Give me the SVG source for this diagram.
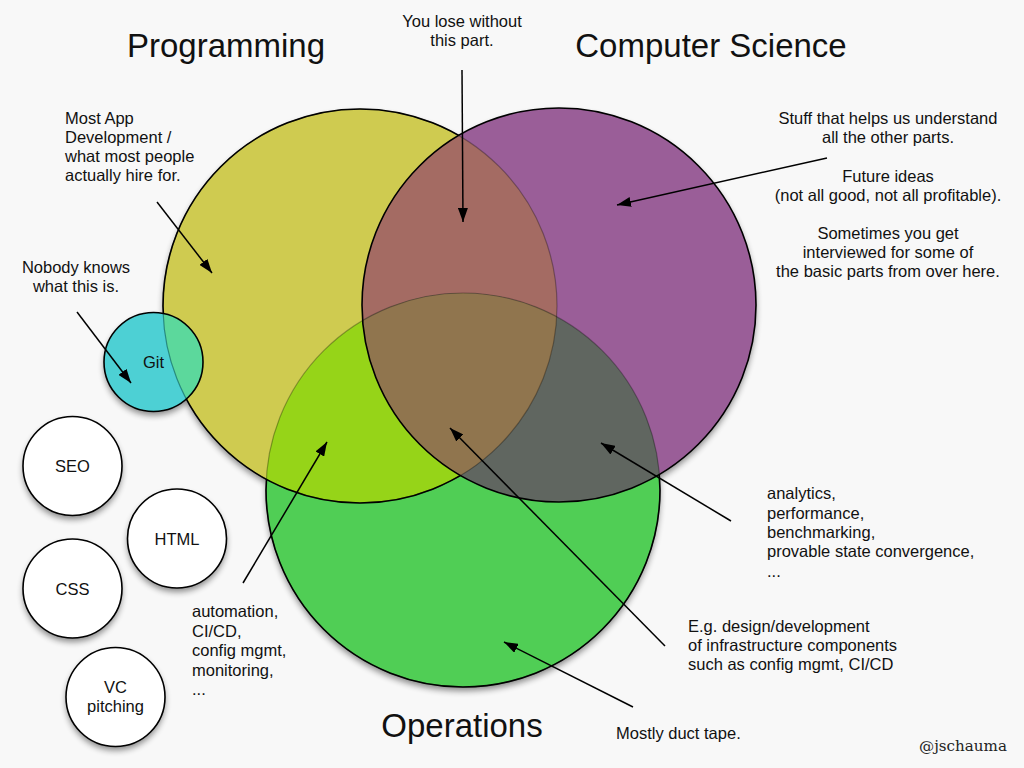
<svg xmlns="http://www.w3.org/2000/svg" width="1024" height="768" viewBox="0 0 1024 768">
<style>
.t{font-family:"Liberation Sans",Arial,sans-serif;fill:#111;}
.lbl{font-size:16.5px;}
.ttl{font-size:33px;}
.ctr{text-anchor:middle;}
.bk{fill:none;stroke:#000;stroke-width:1.6;}
.faint{fill:none;stroke:#000;stroke-width:1.2;stroke-opacity:0.3;}
.wc{fill:#fff;stroke:#000;stroke-width:1.6;}
.conn line{stroke:#000;stroke-width:1.5;marker-end:url(#ah);}
</style>
<defs>
<marker id="ah" viewBox="0 0 14 10" refX="14" refY="5" markerWidth="14" markerHeight="10" markerUnits="userSpaceOnUse" orient="auto"><path d="M0,0 L14,5 L0,10 z" fill="#000"/></marker>
<filter id="sh" x="-20%" y="-20%" width="140%" height="140%"><feGaussianBlur stdDeviation="3"/><feOffset dy="4"/><feComponentTransfer><feFuncA type="linear" slope="0.45"/></feComponentTransfer></filter>
<clipPath id="cY"><circle cx="360" cy="306" r="197"/></clipPath>
<clipPath id="cP"><circle cx="559" cy="305" r="197"/></clipPath>
<clipPath id="cGit"><circle cx="153.5" cy="362" r="49.5"/></clipPath>
<mask id="mOutYP" maskUnits="userSpaceOnUse" x="0" y="0" width="1024" height="768"><rect width="1024" height="768" fill="#fff"/><circle cx="360" cy="306" r="197" fill="#000"/><circle cx="559" cy="305" r="197" fill="#000"/></mask>
<mask id="mOutP" maskUnits="userSpaceOnUse" x="0" y="0" width="1024" height="768"><rect width="1024" height="768" fill="#fff"/><circle cx="559" cy="305" r="197" fill="#000"/></mask>
</defs>
<rect width="1024" height="768" fill="#f8f8f8"/>

<g id="shadows" filter="url(#sh)" fill="#000">
<circle cx="360" cy="306" r="197"/><circle cx="559" cy="305" r="197"/><circle cx="463" cy="490" r="197"/>
<circle cx="153.5" cy="362" r="49.5"/>
<circle cx="72.5" cy="466" r="49.5"/><circle cx="177" cy="538.5" r="49.5"/><circle cx="72.5" cy="588.5" r="49.5"/><circle cx="115.5" cy="697" r="49.5"/>
</g>

<g id="node-operations"><circle cx="463" cy="490" r="197" fill="#50ce55"/></g>
<g id="node-programming"><circle cx="360" cy="306" r="197" fill="#cfcb50"/></g>
<g id="overlap-prog-ops" clip-path="url(#cY)"><circle cx="463" cy="490" r="197" fill="#96d418"/></g>
<g id="node-computer-science"><circle cx="559" cy="305" r="197" fill="#9a5e98"/></g>
<g id="overlaps-cs" clip-path="url(#cP)">
<circle cx="360" cy="306" r="197" fill="#a46b63"/>
<circle cx="463" cy="490" r="197" fill="#606660"/>
<g clip-path="url(#cY)"><circle cx="463" cy="490" r="197" fill="#90754e"/></g>
</g>
<g id="venn-strokes">
<circle class="faint" cx="463" cy="490" r="197"/>
<circle class="bk" cx="463" cy="490" r="197" mask="url(#mOutYP)"/>
<circle class="faint" cx="360" cy="306" r="197"/>
<circle class="bk" cx="360" cy="306" r="197" mask="url(#mOutP)"/>
<circle class="bk" cx="559" cy="305" r="197"/>
</g>

<g id="node-git">
<circle cx="153.5" cy="362" r="49.5" fill="#4dd0d4"/>
<g clip-path="url(#cGit)"><circle cx="360" cy="306" r="197" fill="#5cd89c"/><circle class="faint" cx="360" cy="306" r="197" style="stroke:#0a5a5a;stroke-opacity:0.6"/></g>
<circle class="bk" cx="153.5" cy="362" r="49.5"/>
<text class="t lbl ctr" x="153.5" y="368">Git</text>
</g>
<g id="node-seo"><circle class="wc" cx="72.5" cy="466" r="49.5"/><text class="t lbl ctr" x="72.5" y="472">SEO</text></g>
<g id="node-html"><circle class="wc" cx="177" cy="538.5" r="49.5"/><text class="t lbl ctr" x="177" y="544.5">HTML</text></g>
<g id="node-css"><circle class="wc" cx="72.5" cy="588.5" r="49.5"/><text class="t lbl ctr" x="72.5" y="594.5">CSS</text></g>
<g id="node-vc"><circle class="wc" cx="115.5" cy="697" r="49.5"/><text class="t lbl ctr" x="115.5" y="693">VC</text><text class="t lbl ctr" x="115.5" y="712">pitching</text></g>

<g id="connectors" class="conn">
<line x1="462" y1="70" x2="463" y2="222"/>
<line x1="157" y1="202" x2="212" y2="273"/>
<line x1="77" y1="312" x2="131" y2="383"/>
<line x1="827" y1="158" x2="617" y2="205"/>
<line x1="731" y1="521" x2="601" y2="443"/>
<line x1="665" y1="646" x2="450" y2="428"/>
<line x1="243" y1="583" x2="327" y2="442"/>
<line x1="633" y1="707" x2="504" y2="642"/>
</g>

<g id="titles">
<text class="t ttl ctr" x="226" y="57">Programming</text>
<text class="t ttl ctr" x="711" y="57">Computer Science</text>
<text class="t ttl ctr" x="462" y="737">Operations</text>
</g>
<g id="annotations">
<text class="t lbl ctr" x="462" y="27">You lose without</text>
<text class="t lbl ctr" x="462" y="46">this part.</text>
<text class="t lbl" x="65" y="124">Most App</text>
<text class="t lbl" x="65" y="143">Development /</text>
<text class="t lbl" x="65" y="162">what most people</text>
<text class="t lbl" x="65" y="181">actually hire for.</text>
<text class="t lbl ctr" x="76" y="273">Nobody knows</text>
<text class="t lbl ctr" x="76" y="292">what this is.</text>
<text class="t lbl ctr" x="888" y="124">Stuff that helps us understand</text>
<text class="t lbl ctr" x="888" y="143">all the other parts.</text>
<text class="t lbl ctr" x="888" y="182">Future ideas</text>
<text class="t lbl ctr" x="888" y="201">(not all good, not all profitable).</text>
<text class="t lbl ctr" x="888" y="239">Sometimes you get</text>
<text class="t lbl ctr" x="888" y="258">interviewed for some of</text>
<text class="t lbl ctr" x="888" y="277">the basic parts from over here.</text>
<text class="t lbl" x="767" y="499">analytics,</text>
<text class="t lbl" x="767" y="518.5">performance,</text>
<text class="t lbl" x="767" y="538">benchmarking,</text>
<text class="t lbl" x="767" y="557">provable state convergence,</text>
<text class="t lbl" x="767" y="577">...</text>
<text class="t lbl" x="688" y="632">E.g. design/development</text>
<text class="t lbl" x="688" y="651">of infrastructure components</text>
<text class="t lbl" x="688" y="670">such as config mgmt, CI/CD</text>
<text class="t lbl" x="192" y="617">automation,</text>
<text class="t lbl" x="192" y="636.5">CI/CD,</text>
<text class="t lbl" x="192" y="656">config mgmt,</text>
<text class="t lbl" x="192" y="675.5">monitoring,</text>
<text class="t lbl" x="192" y="695">...</text>
<text class="t lbl" x="616" y="739">Mostly duct tape.</text>
<text x="919" y="751" textLength="88" lengthAdjust="spacingAndGlyphs" style="font-family:'DejaVu Serif',serif;font-size:14px;fill:#222">@jschauma</text>
</g>
</svg>
